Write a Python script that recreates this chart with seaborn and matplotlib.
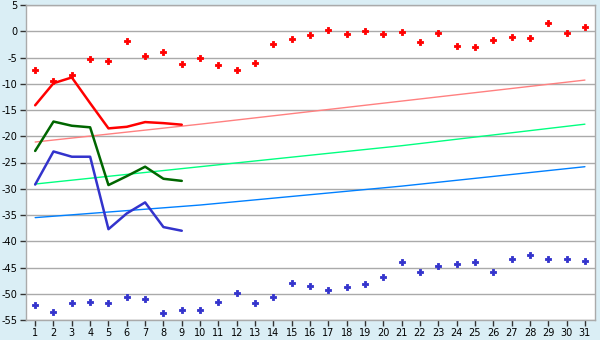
import matplotlib
matplotlib.use("Agg")
import matplotlib.pyplot as plt
import seaborn as sns
import pandas as pd

days = list(range(1, 32))
red_points = [-7.4, -9.5, -8.4, -5.3, -5.7, -1.9, -4.8, -4.0, -6.3, -5.1,
              -6.5, -7.4, -6.1, -2.5, -1.5, -0.8, 0.2, -0.6, 0.0, -0.6,
              -0.2, -2.1, -0.4, -2.9, -3.0, -1.7, -1.1, -1.3, 1.5, -0.4, 0.8]
blue_points = [-52.2, -53.5, -51.8, -51.6, -51.8, -50.7, -51.0, -53.7, -53.0, -53.1,
               -51.6, -49.9, -51.8, -50.7, -48.0, -48.6, -49.3, -48.7, -48.2, -46.9,
               -44.0, -45.9, -44.8, -44.4, -44.0, -45.9, -43.4, -42.7, -43.3, -43.4, -43.8]

line_days = list(range(1, 10))
red_line = [-14.1, -9.9, -8.8, -13.7, -18.5, -18.2, -17.3, -17.5, -17.8]
green_line = [-22.8, -17.2, -18.0, -18.3, -29.3, -27.6, -25.8, -28.1, -28.5]
blue_line = [-29.2, -22.9, -23.9, -23.9, -37.7, -34.7, -32.6, -37.3, -38.0]

trend_days = [1, 10, 21, 31]
pink_trend = [-21.1, -17.7, -13.3, -9.3]
lgreen_trend = [-29.1, -25.8, -21.8, -17.7]
lblue_trend = [-35.5, -33.1, -29.5, -25.8]

yticks = [5, 0, -5, -10, -15, -20, -25, -30, -35, -40, -45, -50, -55]

sns.set_theme(style="white")
plt.rcParams['font.family'] = ['DejaVu Sans']
plt.rcParams['axes.unicode_minus'] = False

bg = "#DAEEF5"
fig = plt.figure(figsize=(6, 3.4), dpi=100, facecolor=bg)
ax = fig.add_axes([26/600, 1-320/340, (595-26)/600, (320-5)/340])
ax.set_facecolor("white")

for d, c in [(pink_trend, "#FF8080"), (lgreen_trend, "#00FF80"), (lblue_trend, "#0080FF")]:
    sns.lineplot(x=trend_days, y=d, ax=ax, color=c, linewidth=1.0, zorder=2)

for d, c in [(red_line, "#FF0000"), (green_line, "#006600"), (blue_line, "#3333CC")]:
    sns.lineplot(x=line_days, y=d, ax=ax, color=c, linewidth=1.8, zorder=3)

sns.scatterplot(x=days, y=red_points, ax=ax, color="#FF0000", marker="P", s=18,
                edgecolor="#FF0000", linewidth=0.6, zorder=4)
sns.scatterplot(x=days, y=blue_points, ax=ax, color="#3333CC", marker="P", s=18,
                edgecolor="#3333CC", linewidth=0.6, zorder=4)

ax.set_xlim(0.5, 31.55)
ax.set_ylim(-55, 5)
ax.set_xticks(days)
ax.set_xticklabels([str(d) for d in days])
ax.set_yticks(yticks)
ax.set_yticklabels([str(v) for v in yticks])
ax.yaxis.grid(True, color="#AAAAAA", linewidth=1.0)
ax.xaxis.grid(False)
ax.set_axisbelow(True)
for s in ax.spines.values():
    s.set_color("#AAAAAA")
    s.set_linewidth(1.0)
ax.tick_params(axis='both', which='both', length=4, width=1, color="#333333",
               labelsize=7, labelcolor="black", pad=2)
ax.tick_params(axis='x', bottom=True, direction='out')
ax.tick_params(axis='y', left=True, direction='out')
ax.set_xlabel("")
ax.set_ylabel("")

fig.savefig("out.png", dpi=100, facecolor=bg)
